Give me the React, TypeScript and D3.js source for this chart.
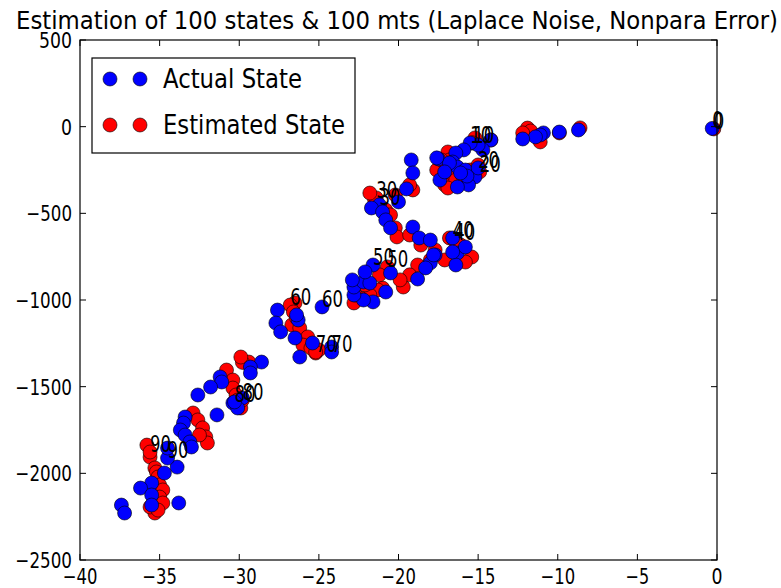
import React, { useEffect, useRef } from "react";
import * as d3 from "d3";

// actual state trajectory (x, y), state 0..99
const actualX = [
  -0.3, -8.7, -9.9, -10.9, -11.1, -11.4, -12.2, -14.2, -14.7, -15.0,
  -15.5, -15.9, -16.4, -16.6, -17.5, -17.4, -16.3, -15.8, -15.2, -15.6,
  -15.0, -15.7, -16.1, -16.8, -17.1, -16.3, -17.6, -19.2, -19.1, -19.5,
  -21.2, -21.7, -21.0, -20.8, -20.5, -20.0, -19.1, -18.7, -18.0, -17.7,
  -16.6, -16.3, -15.8, -16.4, -18.0, -17.8, -18.3, -18.8, -16.6, -20.5,
  -21.6, -20.8, -21.6, -22.2, -22.8, -22.8, -22.2, -21.8, -22.1, -22.9,
  -24.8, -27.6, -27.7, -27.4, -26.3, -26.5, -25.4, -26.2, -24.2, -26.4,
  -24.2, -28.6, -29.3, -29.3, -29.8, -30.4, -30.1, -31.2, -31.1, -31.8,
  -30.3, -32.6, -31.4, -33.4, -33.5, -33.7, -33.4, -33.1, -33.0, -33.9,
  -34.5, -34.7, -35.5, -36.2, -35.5, -33.8, -37.4, -37.2, -35.5, -34.5,
];
const actualY = [
  -10, -19, -31, -36, -48, -59, -71, -77, -134, -106,
  -94, -134, -152, -204, -186, -308, -233, -250, -290, -336,
  -238, -285, -267, -209, -261, -348, -180, -192, -267, -359,
  -451, -469, -492, -538, -584, -434, -579, -642, -654, -740,
  -642, -729, -694, -798, -786, -740, -815, -879, -723, -844,
  -798, -954, -1011, -1000, -971, -925, -896, -902, -838, -884,
  -1040, -1058, -1133, -1184, -1115, -1219, -1248, -1329, -1271, -1086,
  -1300, -1358, -1387, -1421, -1565, -1594, -1623, -1444, -1473, -1502,
  -1588, -1548, -1663, -1675, -1710, -1750, -1779, -1819, -1848, -1964,
  -1912, -1998, -2056, -2085, -2125, -2171, -2183, -2229, -2183, -1854,
];

// estimated state trajectory
const estX = [
  -0.2, -8.6, -9.9, -11.1, -11.9, -11.7, -12.2, -14.2, -15.2, -15.4,
  -15.3, -16.9, -16.8, -17.2, -16.9, -17.1, -16.4, -15.8, -15.5, -15.0,
  -14.9, -15.5, -16.0, -16.9, -17.6, -17.3, -19.1, -19.3, -20.2, -21.5,
  -21.4, -21.8, -20.8, -20.5, -20.2, -20.1, -19.3, -18.6, -17.7, -16.8,
  -16.5, -16.1, -15.4, -15.8, -17.1, -18.0, -18.8, -19.3, -19.7, -19.9,
  -20.7, -21.0, -21.3, -21.8, -22.4, -22.8, -22.7, -22.1, -21.2, -26.5,
  -26.8, -26.6, -26.7, -26.2, -25.7, -25.2, -26.0, -25.5, -26.4, -25.0,
  -25.2, -29.4, -29.8, -29.9, -30.8, -30.4, -30.4, -29.9, -30.2, -30.1,
  -29.8, -32.9, -32.6, -32.3, -32.1, -32.0, -32.5, -35.8, -35.6, -35.3,
  -35.6, -35.2, -35.1, -35.0, -34.8, -35.0, -34.8, -35.3, -35.6, -35.1,
];
const estY = [
  -13, -7, -36, -88, -8, -25, -36, -77, -65, -94,
  -94, -146, -192, -221, -279, -336, -308, -308, -250, -221,
  -261, -296, -279, -354, -250, -192, -365, -336, -394, -423,
  -411, -383, -481, -509, -584, -636, -625, -683, -711, -642,
  -655, -683, -752, -781, -769, -769, -798, -855, -925, -884,
  -809, -931, -942, -971, -988, -1017, -971, -913, -855, -1017,
  -1029, -1069, -1144, -1161, -1213, -1306, -1260, -1277, -1104, -1288,
  -1300, -1358, -1360, -1329, -1404, -1462, -1508, -1623, -1548, -1577,
  -1577, -1652, -1692, -1738, -1790, -1825, -1779, -1837, -1906, -1969,
  -1877, -1992, -2021, -2067, -2096, -2137, -2171, -2229, -2194, -2212,
];

const xTicks = [-40, -35, -30, -25, -20, -15, -10, -5, 0];
const yTicks = [500, 0, -500, -1000, -1500, -2000, -2500];
const labelEvery = 10;

const titleText = "Estimation of 100 states & 100 mts (Laplace Noise, Nonpara Error)";
const seriesNames = ["Actual State", "Estimated State"];
const seriesColors = ["#0000ff", "#ff0000"];

const fmt = (v: number) => (v < 0 ? "\u2212" + Math.abs(v) : String(v));
// the picture's text is narrow and tall: fix widths per glyph
const numWidth = (s: string, digit: number) =>
  s.split("").reduce((w, c) => w + (c === "\u2212" ? digit * 1.15 : digit), 0);

export default function App() {
  const ref = useRef<SVGSVGElement>(null);

  useEffect(() => {
    const width = 781;
    const height = 588;
    const margin = { top: 40, left: 80, bottom: 28, right: 64 };
    const iwidth = width - margin.left - margin.right;
    const iheight = height - margin.top - margin.bottom;
    const font = "'DejaVu Sans Condensed', 'DejaVu Sans', sans-serif";

    const root = d3.select(ref.current);
    root.selectAll("*").remove();
    root.append("rect").attr("width", width).attr("height", height).attr("fill", "#fff");

    root.append("text")
      .attr("x", 397).attr("y", 29)
      .attr("text-anchor", "middle")
      .attr("font-family", font).attr("font-size", 25)
      .attr("textLength", 762).attr("lengthAdjust", "spacingAndGlyphs")
      .text(titleText);

    const svg = root.append("g").attr("transform", `translate(${margin.left},${margin.top})`);

    const x = d3.scaleLinear().domain([-40, 0]).range([0, iwidth]);
    const y = d3.scaleLinear().domain([-2500, 500]).range([iheight, 0]);

    const plot = svg.append("g");

    const series = [
      { xs: estX, ys: estY, color: seriesColors[1] },
      { xs: actualX, ys: actualY, color: seriesColors[0] },
    ];

    series.forEach(s => {
      plot.selectAll(null)
        .data(d3.range(s.xs.length))
        .enter().append("circle")
        .attr("cx", i => x(s.xs[i]))
        .attr("cy", i => y(s.ys[i]))
        .attr("r", 7)
        .attr("fill", s.color)
        .attr("stroke", "#000")
        .attr("stroke-width", 0.6);
    });

    // state index labels every 10 states, for both series
    [series[1], series[0]].forEach(s => {
      plot.selectAll(null)
        .data(d3.range(0, s.xs.length, labelEvery))
        .enter().append("text")
        .attr("x", i => x(s.xs[i]))
        .attr("y", i => y(s.ys[i]))
        .attr("font-family", font).attr("font-size", 23)
        .attr("textLength", i => numWidth(String(i), 10.5))
        .attr("lengthAdjust", "spacingAndGlyphs")
        .attr("fill", "#000")
        .text(i => String(i));
    });

    // frame
    svg.append("rect")
      .attr("width", iwidth).attr("height", iheight)
      .attr("fill", "none").attr("stroke", "#000").attr("stroke-width", 1.2);

    // inward ticks on all sides
    const tickLen = 6;
    xTicks.forEach(t => {
      svg.append("line").attr("x1", x(t)).attr("x2", x(t)).attr("y1", iheight).attr("y2", iheight - tickLen).attr("stroke", "#000");
      svg.append("line").attr("x1", x(t)).attr("x2", x(t)).attr("y1", 0).attr("y2", tickLen).attr("stroke", "#000");
      svg.append("text")
        .attr("x", x(t)).attr("y", iheight + 24)
        .attr("text-anchor", "middle")
        .attr("font-family", font).attr("font-size", 22)
        .attr("textLength", numWidth(fmt(t), 11))
        .attr("lengthAdjust", "spacingAndGlyphs")
        .text(fmt(t));
    });
    yTicks.forEach(t => {
      svg.append("line").attr("x1", 0).attr("x2", tickLen).attr("y1", y(t)).attr("y2", y(t)).attr("stroke", "#000");
      svg.append("line").attr("x1", iwidth).attr("x2", iwidth - tickLen).attr("y1", y(t)).attr("y2", y(t)).attr("stroke", "#000");
      svg.append("text")
        .attr("x", -8).attr("y", y(t) + 8)
        .attr("text-anchor", "end")
        .attr("font-family", font).attr("font-size", 22)
        .attr("textLength", numWidth(fmt(t), 11))
        .attr("lengthAdjust", "spacingAndGlyphs")
        .text(fmt(t));
    });

    // legend
    const lg = svg.append("g").attr("transform", "translate(12,18)");
    lg.append("rect")
      .attr("width", 263).attr("height", 95)
      .attr("fill", "#fff").attr("stroke", "#000").attr("stroke-width", 1.2);
    seriesNames.forEach((name, k) => {
      const cy = 21 + k * 46;
      [18, 48].forEach(cx => {
        lg.append("circle")
          .attr("cx", cx).attr("cy", cy).attr("r", 7)
          .attr("fill", seriesColors[k]).attr("stroke", "#000").attr("stroke-width", 0.6);
      });
      lg.append("text")
        .attr("x", 71).attr("y", cy + 9)
        .attr("font-family", font).attr("font-size", 26)
        .attr("textLength", k === 0 ? 139 : 182).attr("lengthAdjust", "spacingAndGlyphs")
        .text(name);
    });
  }, []);

  return (
    <svg ref={ref} width={781} height={588}
      style={{ position: "absolute", left: 0, top: 0, display: "block" }} />
  );
}
